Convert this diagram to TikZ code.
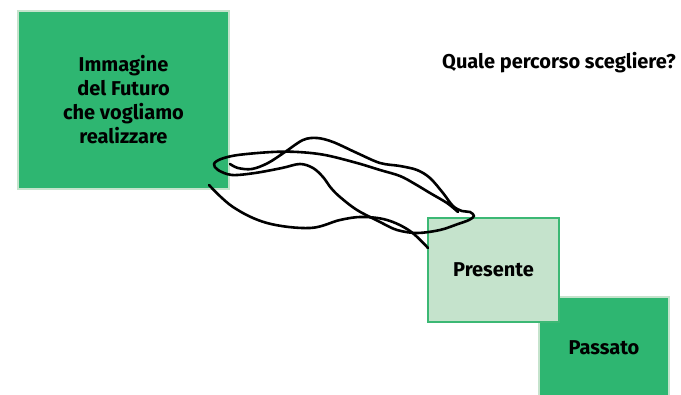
\documentclass[tikz,border=0pt]{standalone}
\usepackage{fontspec}
\setmainfont{Fira Sans}
\usepackage{tikz}
\usetikzlibrary{positioning, calc}
\definecolor{futgreen}{RGB}{46,182,113}
\definecolor{palegreen}{RGB}{197,227,204}
\definecolor{edgegreen}{RGB}{60,184,116}

\begin{document}
\begin{tikzpicture}[x=1pt, y=-1pt,
    darkbox/.style={rectangle, draw=palegreen, line width=2.5pt, fill=futgreen, inner sep=0pt, align=center, font=\bfseries\fontsize{20}{24}\selectfont},
    lightbox/.style={rectangle, draw=edgegreen, line width=2.5pt, fill=palegreen, inner sep=0pt, align=center, font=\bfseries\fontsize{20}{24}\selectfont},
    scribble/.style={line width=2.6pt, line cap=round, line join=round}]
    \useasboundingbox (0,0) rectangle (681,395);
    \clip (0,0) rectangle (681,395);

    \node[darkbox, minimum width=211pt, minimum height=178pt] (futuro) at (123.5,100) {Immagine\\del Futuro\\che vogliamo\\realizzare};
    \node[darkbox, minimum width=130pt, minimum height=110pt] (passato) at (604,352) {};
    \node[font=\bfseries\fontsize{20}{24}\selectfont] (passtxt) at (604,348) {Passato};
    \node[lightbox, minimum width=131pt, minimum height=104pt] (presente) at (493.5,270) {Presente};

    \node[font=\bfseries\fontsize{20}{24}\selectfont, anchor=west, inner sep=0pt] (domanda) at (442,63) {Quale percorso scegliere?};

    % scribbled paths from the future to the present
    \coordinate (a0) at (209,185);
    \coordinate (a1) at (428,248);
    \draw[scribble] plot[smooth, tension=0.6] coordinates {(a0) (233,207) (267,223) (310,228) (340,220) (362,217) (387,220) (410,231) (a1)};

    \coordinate (b0) at (230,164);
    \coordinate (b1) at (458,212);
    \draw[scribble] plot[smooth, tension=0.55] coordinates {(b0) (238,168) (252,169) (268,163) (285,152) (303,140) (317,138) (333,142) (357,153) (380,163) (400,166) (417,170) (430,178) (443,193) (453,206) (462,211) (470,212) (474,216) (469,220) (458,224) (440,230) (417,233) (397,230) (380,222) (357,210) (340,197) (331,188) (323,177) (313,168) (300,164) (282,168) (255,173) (232,175) (218,170) (214,164) (221,159) (238,155) (272,152) (298,152) (325,155) (357,163) (380,170) (400,176) (415,184) (430,193) (447,203) (b1)};
\end{tikzpicture}
\end{document}
